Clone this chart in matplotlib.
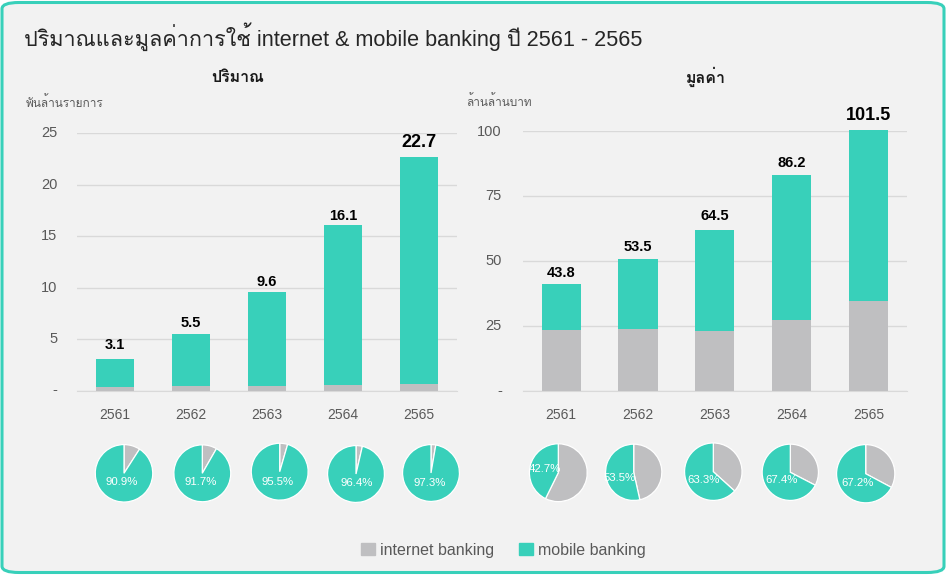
import matplotlib
matplotlib.use("Agg")
import matplotlib.pyplot as plt
from matplotlib import font_manager as fm
from matplotlib.ft2font import FT2Font
from matplotlib.patches import FancyBboxPatch, Patch
from matplotlib.transforms import ScaledTranslation

# Find an installed family that has Thai glyphs, if any
thai_family = None
for f in fm.fontManager.ttflist:
    try:
        if 0x0E1B in FT2Font(f.fname).get_charmap():
            thai_family = f.name
            break
    except Exception:
        pass
families = ["Liberation Sans"] + ([thai_family] if thai_family else []) + ["DejaVu Sans"]
plt.rcParams["font.family"] = families

years = ["2561", "2562", "2563", "2564", "2565"]
vol_internet = [0.3, 0.45, 0.43, 0.58, 0.6]
vol_mobile = [2.8, 5.05, 9.17, 15.52, 22.1]
vol_labels = ["3.1", "5.5", "9.6", "16.1", "22.7"]
val_internet = [23.4, 23.7, 23.0, 27.2, 34.5]
val_mobile = [17.7, 27.0, 39.0, 55.8, 65.8]
val_labels = ["43.8", "53.5", "64.5", "86.2", "101.5"]
vol_pct = [90.9, 91.7, 95.5, 96.4, 97.3]
val_pct = [42.7, 53.5, 63.3, 67.4, 67.2]
vol_ticks = [0, 5, 10, 15, 20, 25]
val_ticks = [0, 25, 50, 75, 100]

TEAL = "#38D0BA"
GREY = "#BFBFC1"
BG = "#F2F2F2"
W, H = 946, 575

fig = plt.figure(figsize=(W / 100, H / 100), dpi=100, facecolor="white")


def rect(x0, y0, x1, y1):
    return [x0 / W, 1 - y1 / H, (x1 - x0) / W, (y1 - y0) / H]


frame = FancyBboxPatch(
    (2 / W, 2.5 / H), (W - 4) / W, (H - 5) / H,
    boxstyle="round,pad=0,rounding_size=0.018", mutation_aspect=H / W,
    transform=fig.transFigure, facecolor=BG, edgecolor=TEAL, linewidth=2.2, figure=fig,
    zorder=-10)
fig.patches.append(frame)


def bar_panel(box, internet, mobile, labels, ticks, top, sizes, offs, pad, lift):
    ax = fig.add_axes(rect(*box))
    ax.set_facecolor("none")
    x = range(len(years))
    ax.bar(x, internet, width=0.51, color=GREY, clip_on=False, zorder=3)
    ax.bar(x, mobile, bottom=internet, width=0.51, color=TEAL, clip_on=False, zorder=3)
    for i, lab in enumerate(labels):
        ax.annotate(lab, (i, internet[i] + mobile[i]), xytext=(0, offs[i]),
                    textcoords="offset pixels", ha="center", va="bottom",
                    fontsize=sizes[i], fontweight="bold", color="black",
                    family=families, annotation_clip=False)
    ax.set_xlim(-0.5, 4.5)
    ax.set_ylim(0, top)
    ax.set_xticks(list(x), years)
    ax.set_yticks(ticks, ["-" if t == 0 else str(t) for t in ticks])
    ax.tick_params(axis="x", length=0, pad=12.5, labelsize=10, labelcolor="#595959")
    ax.tick_params(axis="y", length=0, pad=pad, labelsize=10.5, labelcolor="#595959")
    shift = ScaledTranslation(0, lift / 100, fig.dpi_scale_trans)
    for lbl in ax.get_yticklabels():
        lbl.set_transform(lbl.get_transform() + shift)
    ax.grid(axis="y", color="#D9D9D9", linewidth=1)
    ax.set_axisbelow(True)
    for s in ["top", "left", "right"]:
        ax.spines[s].set_visible(False)
    ax.spines["bottom"].set_color("#D9D9D9")
    return ax


bar_panel((77, 133.3, 457, 390.5), vol_internet, vol_mobile, vol_labels, vol_ticks, 25,
          [10.5, 10.5, 10.5, 10.5, 13], [7, 4, 3, 2, 6], 14, 1.5)
bar_panel((522.7, 131, 907, 390.5), val_internet, val_mobile, val_labels, val_ticks, 100,
          [10.5, 10.5, 10.5, 10.5, 13], [4, 5, 7, 5, 6], 15, 1)


def pie(cx, cy, r, pct, lx, ly):
    ax = fig.add_axes(rect(cx - r, cy - r, cx + r, cy + r))
    ax.pie([100 - pct, pct], colors=[GREY, TEAL], startangle=90, counterclock=False,
           radius=1, wedgeprops={"edgecolor": "white", "linewidth": 0.9})
    ax.set_xlim(-1.02, 1.02)
    ax.set_ylim(-1.02, 1.02)
    ax.set_aspect("auto")
    ax.patch.set_visible(False)
    fig.text(lx / W, 1 - ly / H, f"{pct}%", color="white", fontsize=8.2,
             ha="center", va="center", zorder=10)


vol_geo = [(124, 473.3, 29.3, 121.7, 482), (202.3, 473.3, 29, 201, 482),
           (279.7, 471.7, 29, 278, 482), (356, 474, 29, 357, 483),
           (431, 473, 29, 430, 483)]
val_geo = [(558.3, 472.7, 29.5, 545, 469), (633.7, 472.3, 28.7, 620, 477.7),
           (713.3, 471.7, 29.3, 704, 479.7), (790.3, 472.3, 28.7, 782, 479.7),
           (865.7, 473.7, 29.7, 858, 482.5)]
for g, p in zip(vol_geo, vol_pct):
    pie(g[0], g[1], g[2], p, g[3], g[4])
for g, p in zip(val_geo, val_pct):
    pie(g[0], g[1], g[2], p, g[3], g[4])

fig.text(24 / W, 1 - 37 / H, "ปริมาณและมูลค่าการใช้ internet & mobile banking ปี 2561 - 2565",
         fontsize=15.6, color="#262626", ha="left", va="center")
fig.text(238 / W, 1 - 77 / H, "ปริมาณ", fontsize=11.5, fontweight="bold", color="#1a1a1a",
         ha="center", va="center")
fig.text(706 / W, 1 - 77 / H, "มูลค่า", fontsize=11.5, fontweight="bold", color="#1a1a1a",
         ha="center", va="center")
fig.text(26 / W, 1 - 103 / H, "พันล้านรายการ", fontsize=8.5, color="#595959", ha="left", va="center")
fig.text(466 / W, 1 - 102 / H, "ล้านล้านบาท", fontsize=8.5, color="#595959", ha="left", va="center")

fig.legend(handles=[Patch(color=GREY, label="internet banking"),
                    Patch(color=TEAL, label="mobile banking")],
           loc="center", bbox_to_anchor=(503.5 / W, 1 - 550 / H), ncol=2, frameon=False,
           fontsize=11.5, labelcolor="#595959", handlelength=0.85, handleheight=0.85,
           handletextpad=0.32, columnspacing=1.6)

fig.savefig("out.png", dpi=100, facecolor="white")
